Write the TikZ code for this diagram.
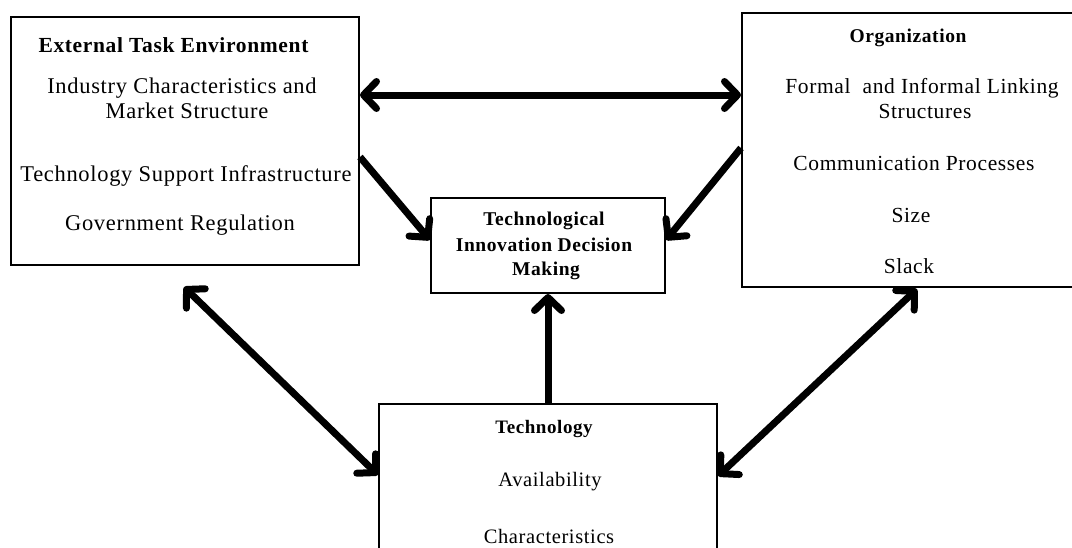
\documentclass[tikz,border=0pt]{standalone}
\usepackage{fontspec}
\setmainfont{Liberation Serif}[LetterSpace=3]
\usetikzlibrary{arrows.meta}
\tikzset{
  box/.style={draw=black, line width=2pt, inner sep=0pt, fill=none},
  txt/.style={anchor=base, inner sep=0pt, font=\fontsize{#1}{#1}\selectfont},
  hd/.style={anchor=base, inner sep=0pt, font=\fontsize{#1}{#1}\selectfont\bfseries},
  tip/.tip={Straight Barb[length=13pt,width=27pt,round]},
  bigarrow/.style={line width=7pt, -tip},
  dblarrow/.style={line width=7pt, tip-tip}
}
\begin{document}
\begin{tikzpicture}[x=1pt,y=-1pt]
\useasboundingbox (0,0) rectangle (1072,547);
\clip (0,0) rectangle (1072,547);
% boxes
\node[box, minimum width=348pt, minimum height=248pt] (ext) at (185,141) {};
\node[box, minimum width=338pt, minimum height=274pt] (org) at (911,150) {};
\node[box, minimum width=234pt, minimum height=95pt] (tidm) at (548,245.5) {};
\node[box, minimum width=338pt, minimum height=160pt] (tech) at (548,484) {};
% texts: external
\node[hd=21.5] (extH) at (173.5,52) {External Task Environment};
\node[txt=22.5] (ext1) at (182,93) {Industry Characteristics and};
\node[txt=22.5] (ext2) at (187,118) {Market Structure};
\node[txt=22.5] (ext3) at (186,181) {Technology Support Infrastructure};
\node[txt=22.5] (ext4) at (180,230) {Government Regulation};
% texts: organization
\node[hd=19.5] (orgH) at (908,42) {Organization};
\node[txt=21.5] (org1) at (922,93) {Formal\ \ and Informal Linking};
\node[txt=21.5] (org2) at (925,118) {Structures};
\node[txt=21.5] (org3) at (914,170) {Communication Processes};
\node[txt=21.5] (org4) at (911,222) {Size};
\node[txt=21.5] (org5) at (909,273) {Slack};
% texts: decision
\node[hd=19.5] (dec1) at (544,225) {Technological};
\node[hd=19.5] (dec2) at (544,251) {Innovation Decision};
\node[hd=19.5] (dec3) at (546,275) {Making};
% texts: technology
\node[hd=19] (techH) at (544,433) {Technology};
\node[txt=20.5] (tech1) at (550,486) {Availability};
\node[txt=20.5] (tech2) at (549,543) {Characteristics};
% connector end points on box borders
\coordinate (hA) at (ext.east |- 0,95);
\coordinate (hB) at (org.west |- 0,95);
\coordinate (dA) at (ext.east |- 0,157);
\coordinate (dB) at (tidm.west |- 0,240);
\coordinate (eA) at (org.west |- 0,148);
\coordinate (eB) at (tidm.east |- 0,240);
\coordinate (vA) at (tech.north);
\coordinate (vB) at (tidm.south);
\coordinate (lA) at (184,287);
\coordinate (lB) at (tech.west |- 0,475);
\coordinate (rA) at (917,289);
\coordinate (rB) at (tech.east |- 0,476);
% connectors
\draw[dblarrow] (hA) -- (hB);
\draw[bigarrow] (dA) -- (dB);
\draw[bigarrow] (eA) -- (eB);
\draw[bigarrow] (vA) -- (vB);
\draw[dblarrow] (lA) -- (lB);
\draw[dblarrow] (rA) -- (rB);
\end{tikzpicture}
\end{document}
